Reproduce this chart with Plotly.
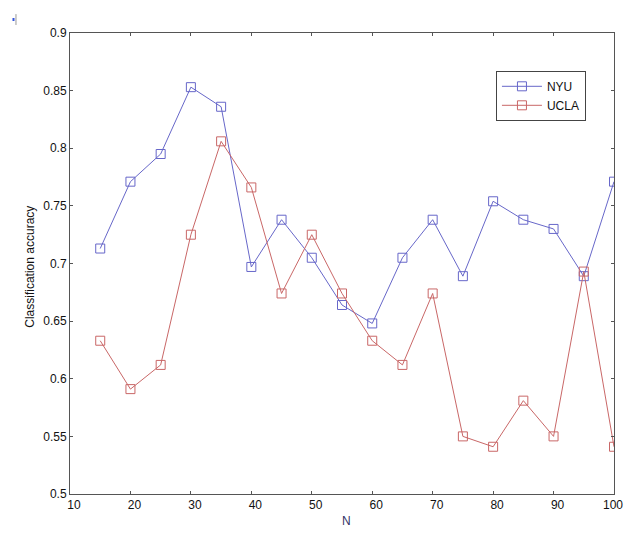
import plotly.graph_objects as go

N = [15, 20, 25, 30, 35, 40, 45, 50, 55, 60, 65, 70, 75, 80, 85, 90, 95, 100]
nyu = [0.713, 0.771, 0.795, 0.853, 0.836, 0.697, 0.738, 0.705, 0.664, 0.648, 0.705, 0.738,
       0.689, 0.754, 0.738, 0.730, 0.689, 0.771]
ucla = [0.633, 0.591, 0.612, 0.725, 0.806, 0.766, 0.674, 0.725, 0.674, 0.633, 0.612, 0.674,
        0.550, 0.541, 0.581, 0.550, 0.693, 0.541]
x_ticks = [10, 20, 30, 40, 50, 60, 70, 80, 90, 100]
x_labels = ["10", "20", "30", "40", "50", "60", "70", "80", "90", "100"]
y_ticks = [0.5, 0.55, 0.6, 0.65, 0.7, 0.75, 0.8, 0.85, 0.9]
y_labels = ["0.5", "0.55", "0.6", "0.65", "0.7", "0.75", "0.8", "0.85", "0.9"]

FONT = "Liberation Sans, Arial"

fig = go.Figure()
fig.add_trace(go.Scatter(x=N, y=nyu, name="NYU", mode="lines+markers",
                         line=dict(color="#6767c9", width=1),
                         marker=dict(symbol="square-open", size=9, color="#6767c9", line=dict(width=1))))
fig.add_trace(go.Scatter(x=N, y=ucla, name="UCLA", mode="lines+markers",
                         line=dict(color="#c96767", width=1),
                         marker=dict(symbol="square-open", size=9, color="#c96767", line=dict(width=1))))

axis_common = dict(showgrid=False, zeroline=False, showline=True, linecolor="#555555",
                   linewidth=1, mirror="ticks", ticks="inside", ticklen=3, tickcolor="#555555",
                   tickfont=dict(family=FONT, size=12, color="#111111"))

# the last x label sits centred on its tick, the others are nudged right
shifted_text = x_labels[:-1] + [""]

fig.update_layout(
    width=619, height=521,
    margin=dict(l=62, r=13, t=25, b=35),
    paper_bgcolor="white", plot_bgcolor="white",
    showlegend=True,
    legend=dict(x=0.783, y=0.918, xanchor="left", yanchor="top",
                bordercolor="#444444", borderwidth=1, bgcolor="white",
                font=dict(family=FONT, size=12, color="#111111"),
                tracegroupgap=0, itemwidth=40),
    xaxis=dict(range=[10, 100], tickvals=x_ticks, ticktext=shifted_text, ticklabelshift=4,
               **axis_common),
    yaxis=dict(range=[0.5, 0.9], tickvals=y_ticks, ticktext=y_labels, **axis_common),
    annotations=[
        dict(text=x_labels[-1], xref="x", yref="paper", x=x_ticks[-1], y=-0.0239, xshift=-1,
             xanchor="center", yanchor="middle", showarrow=False,
             font=dict(family=FONT, size=12, color="#111111")),
        dict(text="Classification accuracy", textangle=-90, xref="paper", yref="paper",
             x=-0.0735, y=0.493, xanchor="center", yanchor="middle", showarrow=False,
             font=dict(family=FONT, size=12, color="#111111")),
        dict(text="N", xref="paper", yref="paper", x=0.509, y=-0.0586,
             xanchor="center", yanchor="middle", showarrow=False,
             font=dict(family=FONT, size=12, color="#333366")),
    ],
    shapes=[
        dict(type="line", xref="paper", yref="paper", x0=-0.0993, x1=-0.0993, y0=1.0174, y1=1.041,
             line=dict(color="#999999", width=1)),
        dict(type="rect", xref="paper", yref="paper", x0=-0.1057, x1=-0.1020, y0=1.026, y1=1.0325,
             line=dict(width=0), fillcolor="#3355dd"),
    ],
)

fig.write_html("out.html")
